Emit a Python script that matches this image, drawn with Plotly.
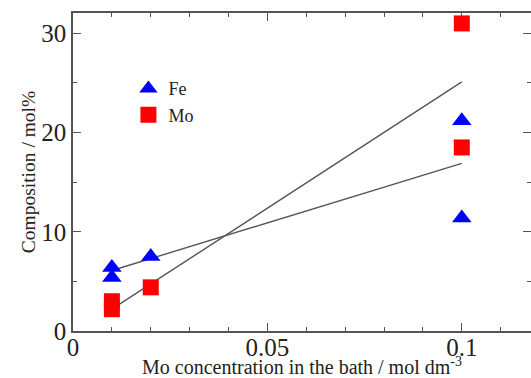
import plotly.graph_objects as go

# Data
fe_x = [0.01, 0.01, 0.02, 0.1, 0.1]
fe_y = [6.4, 5.4, 7.5, 21.2, 11.4]
mo_x = [0.01, 0.01, 0.02, 0.1, 0.1]
mo_y = [3.0, 2.2, 4.4, 31.0, 18.5]
fe_fit_x = [0.01, 0.1]
fe_fit_y = [6.1, 16.9]
mo_fit_x = [0.01, 0.1]
mo_fit_y = [2.2, 25.1]
x_tick_vals = [0, 0.05, 0.1]
x_tick_text = ["0", "0.05", "0.1"]
y_tick_vals = [0, 10, 20, 30]

FONT = "Liberation Serif"
AX = "#555555"
TXT = "#222222"

fig = go.Figure()
fig.add_trace(go.Scatter(x=fe_fit_x, y=fe_fit_y, mode="lines",
                         line=dict(color="#555555", width=1.4), showlegend=False))
fig.add_trace(go.Scatter(x=mo_fit_x, y=mo_fit_y, mode="lines",
                         line=dict(color="#555555", width=1.4), showlegend=False))
fig.add_trace(go.Scatter(x=fe_x, y=fe_y, mode="markers", name="Fe",
                         marker=dict(symbol="triangle-up", size=17, color="#0000ff",
                                     line=dict(width=0))))
fig.add_trace(go.Scatter(x=mo_x, y=mo_y, mode="markers", name="Mo",
                         marker=dict(symbol="square", size=16, color="#ff0000",
                                     line=dict(width=0))))

fig.update_layout(
    width=531, height=378,
    margin=dict(l=73, r=0, t=13, b=47),
    paper_bgcolor="white", plot_bgcolor="white",
    font=dict(family=FONT, color=TXT),
    showlegend=True,
    legend=dict(x=0.121, y=0.82, xanchor="left", yanchor="top",
                bgcolor="rgba(0,0,0,0)", font=dict(size=18, family=FONT, color=TXT),
                itemwidth=30, tracegroupgap=0),
    xaxis=dict(range=[0, 0.1178], tickvals=x_tick_vals, ticktext=x_tick_text,
               ticks="inside", ticklen=8, tickwidth=1.4, tickcolor=AX,
               ticklabelstandoff=-7,
               minor=dict(dtick=0.01, tick0=0, ticks="inside", ticklen=4, tickwidth=1.4,
                          tickcolor=AX),
               showline=True, linecolor=AX, linewidth=1.5, mirror="allticks",
               showgrid=False, zeroline=False, automargin=False,
               tickfont=dict(size=25, family=FONT, color=TXT),
               title=dict(text="Mo concentration in the bath / mol dm<sup>-3</sup>",
                          font=dict(size=20, family=FONT, color=TXT), standoff=3)),
    yaxis=dict(range=[0, 32.05], tickvals=y_tick_vals,
               ticks="inside", ticklen=8, tickwidth=1.4, tickcolor=AX,
               minor=dict(dtick=5, tick0=0, ticks="inside", ticklen=4, tickwidth=1.4,
                          tickcolor=AX),
               showline=True, linecolor=AX, linewidth=1.5, mirror="allticks",
               showgrid=False, zeroline=False, automargin=False,
               tickfont=dict(size=25, family=FONT, color=TXT),
               title=dict(text="Composition / mol%",
                          font=dict(size=19.5, family=FONT, color=TXT), standoff=0)),
)

fig.write_html("out.html")
